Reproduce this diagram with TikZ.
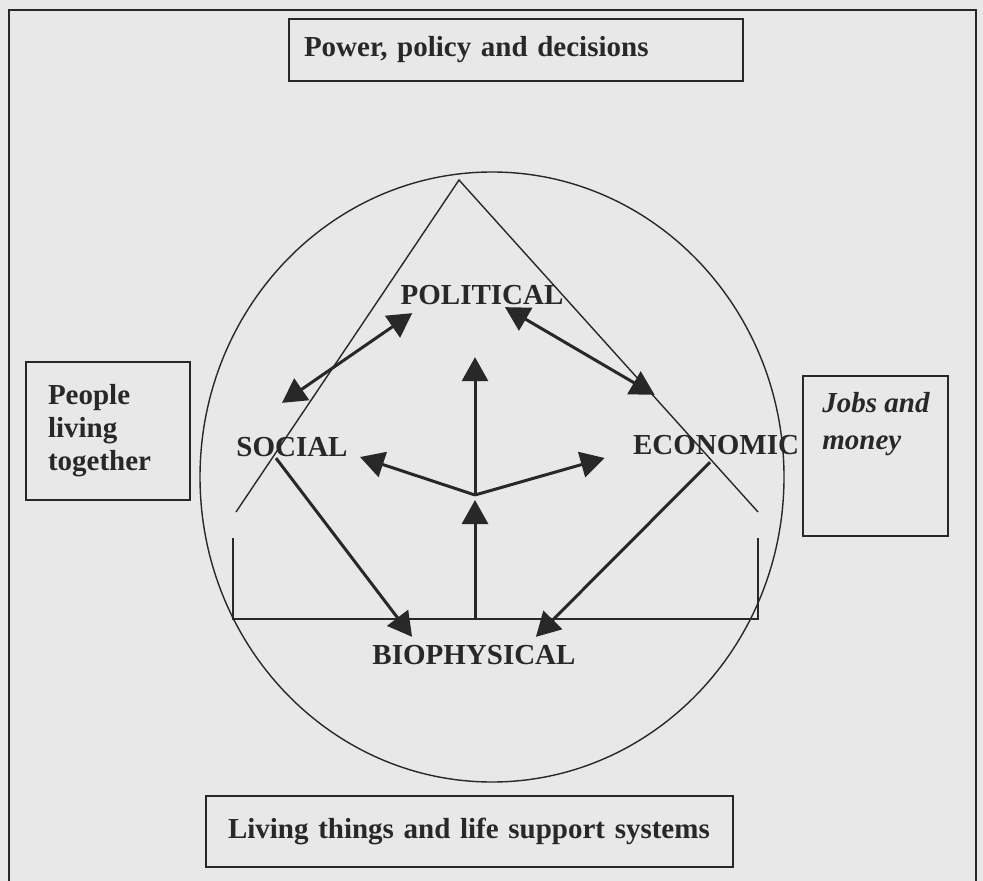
\documentclass[tikz,border=0pt]{standalone}
\usepackage{fontspec}
\setmainfont{Liberation Serif}
\usetikzlibrary{arrows.meta}
\definecolor{paper}{RGB}{232,232,232}
\definecolor{ink}{RGB}{40,40,40}

\begin{document}
\begin{tikzpicture}[x=0.5pt, y=-0.5pt,
    lbl/.style={font=\fontsize{14.5}{17}\selectfont\bfseries, text=ink, inner sep=0pt},
    boxed/.style={draw=ink, line width=1pt, font=\fontsize{14.5}{16.5}\selectfont\bfseries, text=ink, align=left, anchor=north west},
    outline/.style={draw=ink, line width=0.7pt},
    link/.style={draw=ink, line width=1.5pt, -{Triangle[length=12pt,width=13pt]}},
    twoway/.style={link, {Triangle[length=12pt,width=13pt]}-{Triangle[length=12pt,width=13pt]}}]

        % 1. VARIABLES
        \def\W{983}  % largura da folha
        \def\H{881}  % altura da folha

        % ==========================================
        % 2. FOLHA E MOLDURA
        % ==========================================
        \fill[paper] (0,0) rectangle (\W,\H);
        \useasboundingbox (0,0) rectangle (\W,\H);
        \draw[ink, line width=1.2pt] (9,\H) -- (9,10) -- (976,10) -- (976,\H);

        % ==========================================
        % 3. CAIXAS EXTERNAS
        % ==========================================
        \node[boxed, minimum height=31pt, text width=212pt, inner xsep=7.5pt, inner ysep=0pt] (power) at (288,18) {Power, policy and decisions};
        \node[boxed, minimum height=35.5pt, text width=241.5pt, inner xsep=11pt, inner ysep=0pt] (living) at (205,795) {Living things and life support systems};
        \node[boxed, minimum height=69pt, text width=60pt, inner xsep=11pt, inner ysep=0pt] (people) at (25,361) {People\\living\\together};
        \node[boxed, minimum width=72.5pt, minimum height=80pt] (jobsbox) at (802,375) {};
        \node[lbl, font=\fontsize{14.5}{18.5}\selectfont\bfseries\itshape, align=left, anchor=north west] (jobs) at (822,392) {Jobs and\\money};

        % ==========================================
        % 4. ELIPSE E TRIANGULO
        % ==========================================
        \draw[outline] (492,477) ellipse [x radius=146pt, y radius=152.5pt];
        \draw[outline] (236,512) -- (459,180) -- (758,512);
        \draw[outline] (233,538) -- (233,619) -- (758,619) -- (758,538);

        % ==========================================
        % 5. ROTULOS E SETAS
        % ==========================================
        \node[lbl] (pol) at (482,295) {POLITICAL};
        \node[lbl] (soc) at (292,447) {SOCIAL};
        \node[lbl] (eco) at (716,445) {ECONOMIC};
        \node[lbl] (bio) at (474,655) {BIOPHYSICAL};

        \coordinate (hub) at (475,495);
        \coordinate (base) at (475,619);

        \draw[twoway] ([shift={(12,8)}]pol.south west) -- ([shift={(-10,-34)}]soc.north);
        \draw[twoway] ([shift={(23,2)}]pol.south) -- ([shift={(22,-40)}]eco.north west);
        \draw[link] (hub) -- ([shift={(-7,52)}]pol.south);
        \draw[link] (hub) -- ([shift={(12,10)}]soc.east);
        \draw[link] (hub) -- ([shift={(-28,13)}]eco.west);
        \draw[link, shorten >=2.5pt] (base) -- (hub);
        \draw[link] ([shift={(-16,1)}]soc.south) -- ([shift={(40,-8)}]bio.north west);
        \draw[link] ([shift={(-6,7)}]eco.south) -- ([shift={(-40,-8)}]bio.north east);

    \end{tikzpicture}
\end{document}
